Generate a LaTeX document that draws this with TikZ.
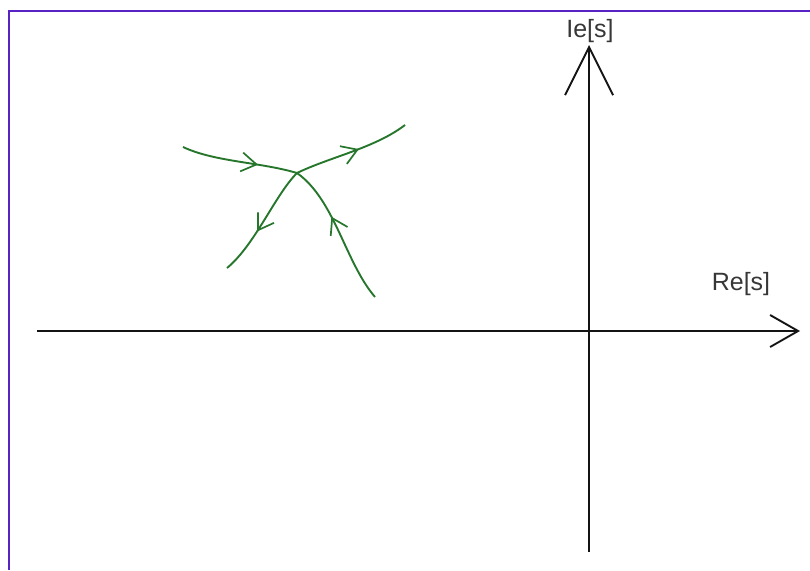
\documentclass[tikz,border=0pt]{standalone}
\usepackage{fontspec}
\setmainfont{Liberation Sans}
\usetikzlibrary{arrows.meta, decorations.markings}
\definecolor{loccolor}{RGB}{38, 118, 44}
\definecolor{axcolor}{RGB}{20, 20, 20}
\definecolor{lblcolor}{RGB}{55, 55, 55}
\definecolor{frmcolor}{RGB}{88, 34, 196}

\begin{document}
\begin{tikzpicture}[
  x=1pt, y=-1pt,
  % --- Styles ---
  axis/.style={draw=axcolor, line width=1.9pt},
  axlbl/.style={font=\fontsize{25}{27}\selectfont, text=lblcolor, inner sep=0pt},
  branch/.style={draw=loccolor, line width=1.9pt},
  midarr/.style={postaction={decorate, decoration={markings,
      mark=at position #1 with {\arrow[loccolor, line width=1.7pt]{Straight Barb[length=15pt, width=19pt]}}}}},
]
\useasboundingbox (0,0) rectangle (810,570);
% === FRAME ===
\draw[frmcolor, line width=2.6pt] (810,11) -- (9,11) -- (9,570);
% === AXES ===
\coordinate (ybot) at (589,552);
\coordinate (ytop) at (589,45);
\coordinate (xleft) at (37,331);
\coordinate (xright) at (800,331);
\draw[axis, -{Straight Barb[length=48pt, width=48pt]}] (ybot) -- (ytop);
\draw[axis, -{Straight Barb[length=28pt, width=32pt]}] (xleft) -- (xright);
\node[axlbl] (imlbl) at (590,31) {Ie[s]};
\node[axlbl] (relbl) at (741,284) {Re[s]};
% === LOCUS ===
\coordinate (bp) at (297,173);
\coordinate (inl) at (183,147);
\coordinate (inb) at (375,297);
\coordinate (outr) at (405,125);
\coordinate (outl) at (227,268);
% incoming branches
\draw[branch, midarr=0.66] (inl) .. controls (215,162) and (260,162) .. (bp);
\draw[branch, midarr=0.62] (inb) .. controls (345,262) and (335,200) .. (bp);
% outgoing branches
\draw[branch, midarr=0.56] (bp) .. controls (330,157) and (375,148) .. (outr);
\draw[branch, midarr=0.6] (bp) .. controls (275,195) and (255,245) .. (outl);
\end{tikzpicture}
\end{document}
